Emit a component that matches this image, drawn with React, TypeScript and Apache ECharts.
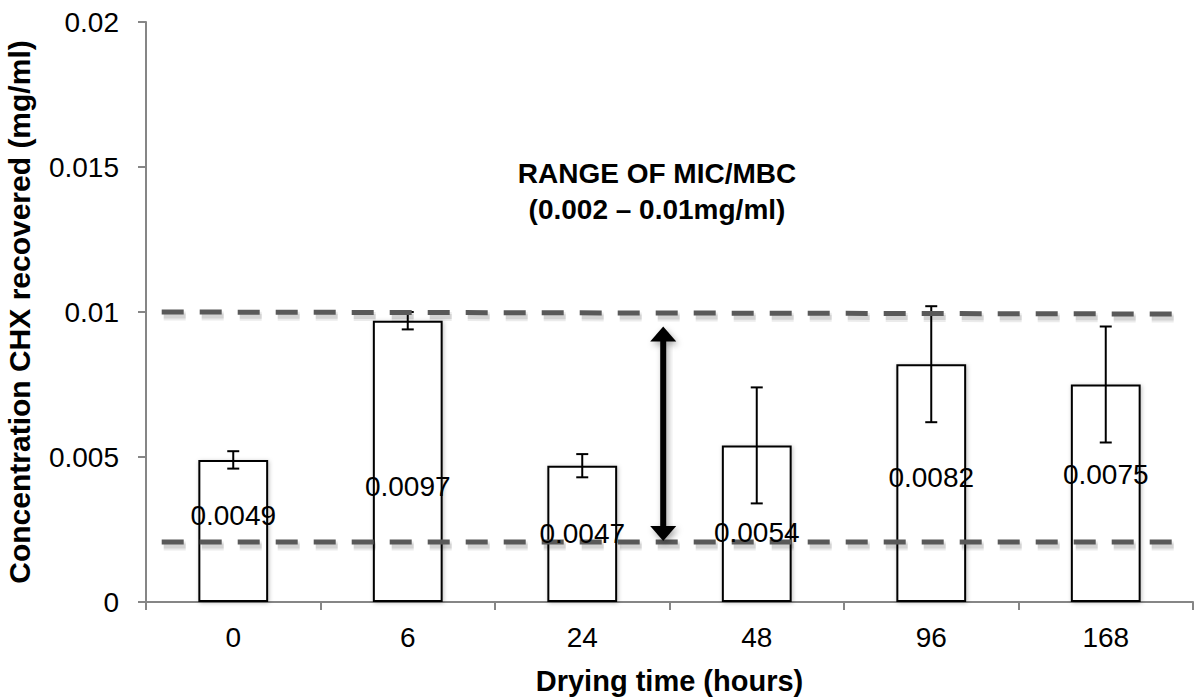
import React, { useEffect, useRef } from "react";
import * as echarts from "echarts";

const categories = ["0", "6", "24", "48", "96", "168"];
const concentration = [0.0049, 0.0097, 0.0047, 0.0054, 0.0082, 0.0075];
const errorMargins = [0.0003, 0.0003, 0.0004, 0.002, 0.002, 0.002];
const labelAnchors = [0.003, 0.004, 0.00235, 0.0024, 0.0043, 0.0044];
const upperLimitLine = [
  [0.015, 0.01],
  [0.985, 0.00993],
];
const lowerLimitLine = [
  [0.015, 0.00207],
  [0.985, 0.00207],
];
const arrowSpan = [[0.494, 0.0095, 0.0021]];
const yMin = 0;
const yMax = 0.02;
const yInterval = 0.005;

const FONT = "'Liberation Sans', Arial, sans-serif";

function dashedLineSeries(points: number[][]) {
  return {
    type: "custom",
    xAxisIndex: 1,
    data: [points.flat()],
    z: 4,
    silent: true,
    renderItem: (params: any, api: any) => {
      const a = api.coord([api.value(0), api.value(1)]);
      const b = api.coord([api.value(2), api.value(3)]);
      const dash = [22, 16];
      return {
        type: "group",
        children: [
          {
            type: "line",
            shape: { x1: a[0] + 2, y1: a[1] + 4, x2: b[0] + 2, y2: b[1] + 4 },
            style: { stroke: "rgba(0,0,0,0.08)", lineWidth: 9, lineDash: dash },
          },
          {
            type: "line",
            shape: { x1: a[0] + 2, y1: a[1] + 4, x2: b[0] + 2, y2: b[1] + 4 },
            style: { stroke: "rgba(0,0,0,0.10)", lineWidth: 5, lineDash: dash },
          },
          {
            type: "line",
            shape: { x1: a[0], y1: a[1], x2: b[0], y2: b[1] },
            style: { stroke: "#595959", lineWidth: 5, lineDash: dash },
          },
        ],
      };
    },
  };
}

export default function App() {
  const ref = useRef<HTMLDivElement>(null);

  useEffect(() => {
    document.body.style.margin = "0";
    if (!ref.current) return;
    const chart = echarts.init(ref.current, null, { renderer: "svg" });

    const errorData = concentration.map((v, i) => [i, v - errorMargins[i], v + errorMargins[i]]);
    const labelData = labelAnchors.map((v, i) => [i, v]);

    chart.setOption({
      animation: false,
      backgroundColor: "#ffffff",
      textStyle: { fontFamily: FONT },
      grid: {
        left: 146,
        right: 3,
        top: 22,
        bottom: 95,
        containLabel: false,
        outerBoundsMode: "none",
      },
      xAxis: [
        {
          type: "category",
          data: categories,
          name: "Drying time (hours)",
          nameLocation: "middle",
          nameGap: 64,
          nameTextStyle: {
            fontSize: 29,
            lineHeight: 29,
            fontWeight: "bold",
            color: "#000",
            fontFamily: FONT,
          },
          axisLine: { lineStyle: { color: "#868686", width: 2 } },
          axisTick: { show: true, length: 8, lineStyle: { color: "#868686", width: 2 } },
          axisLabel: { fontSize: 28, color: "#000", margin: 21, fontFamily: FONT },
          splitLine: { show: false },
        },
        {
          type: "value",
          min: 0,
          max: 1,
          show: false,
        },
      ],
      yAxis: {
        type: "value",
        min: yMin,
        max: yMax,
        interval: yInterval,
        name: "Concentration CHX recovered (mg/ml)",
        nameLocation: "middle",
        nameGap: 112,
        nameTextStyle: { fontSize: 30, fontWeight: "bold", color: "#000", fontFamily: FONT },
        axisLine: { show: true, lineStyle: { color: "#868686", width: 2 } },
        axisTick: { show: true, length: 8, lineStyle: { color: "#868686", width: 2 } },
        axisLabel: { fontSize: 28, color: "#000", margin: 27, fontFamily: FONT },
        splitLine: { show: false },
      },
      series: [
        {
          type: "bar",
          data: concentration,
          barWidth: "40%",
          itemStyle: {
            color: "#ffffff",
            borderColor: "#000000",
            borderWidth: 2,
            shadowColor: "rgba(0,0,0,0.25)",
            shadowBlur: 4,
            shadowOffsetX: 1,
            shadowOffsetY: 1,
          },
          z: 2,
        },
        {
          type: "custom",
          data: errorData,
          z: 3,
          renderItem: (params: any, api: any) => {
            const x = api.value(0);
            const lo = api.coord([x, api.value(1)]);
            const hi = api.coord([x, api.value(2)]);
            const hw = 6;
            const style = { stroke: "#000", lineWidth: 2 };
            return {
              type: "group",
              children: [
                { type: "line", shape: { x1: lo[0], y1: lo[1], x2: hi[0], y2: hi[1] }, style },
                { type: "line", shape: { x1: hi[0] - hw, y1: hi[1], x2: hi[0] + hw, y2: hi[1] }, style },
                { type: "line", shape: { x1: lo[0] - hw, y1: lo[1], x2: lo[0] + hw, y2: lo[1] }, style },
              ],
            };
          },
        },
        dashedLineSeries(upperLimitLine),
        dashedLineSeries(lowerLimitLine),
        {
          type: "custom",
          xAxisIndex: 1,
          data: arrowSpan,
          z: 5,
          silent: true,
          renderItem: (params: any, api: any) => {
            const x = api.value(0);
            const top = api.coord([x, api.value(1)]);
            const bot = api.coord([x, api.value(2)]);
            const hl = 15;
            const hw = 13;
            const shadow = {
              shadowColor: "rgba(0,0,0,0.35)",
              shadowBlur: 6,
              shadowOffsetX: 2,
              shadowOffsetY: 3,
            };
            return {
              type: "group",
              children: [
                {
                  type: "rect",
                  shape: { x: top[0] - 3, y: top[1] + hl - 1, width: 6, height: bot[1] - top[1] - 2 * hl + 2 },
                  style: { fill: "#000", ...shadow },
                },
                {
                  type: "polygon",
                  shape: {
                    points: [
                      [top[0], top[1]],
                      [top[0] - hw, top[1] + hl],
                      [top[0] + hw, top[1] + hl],
                    ],
                  },
                  style: { fill: "#000", ...shadow },
                },
                {
                  type: "polygon",
                  shape: {
                    points: [
                      [bot[0], bot[1]],
                      [bot[0] - hw, bot[1] - hl],
                      [bot[0] + hw, bot[1] - hl],
                    ],
                  },
                  style: { fill: "#000", ...shadow },
                },
              ],
            };
          },
        },
        {
          type: "scatter",
          data: labelData,
          symbolSize: 0,
          z: 6,
          silent: true,
          itemStyle: { opacity: 1, color: "#000" },
          label: {
            show: true,
            position: "inside",
            fontSize: 28,
            color: "#000000",
            opacity: 1,
            textBorderWidth: 0,
            textBorderColor: "transparent",
            fontFamily: FONT,
            formatter: (p: any) => String(concentration[p.dataIndex]),
          },
        },
      ],
      graphic: [
        {
          type: "text",
          x: 657,
          y: 191,
          style: {
            text: "RANGE OF MIC/MBC\n(0.002 – 0.01mg/ml)",
            fontSize: 28,
            fontWeight: "bold",
            fontFamily: FONT,
            fill: "#000",
            align: "center",
            verticalAlign: "middle",
            lineHeight: 36,
          },
          z: 10,
        },
      ],
    });

    return () => chart.dispose();
  }, []);

  return <div ref={ref} style={{ width: 1196, height: 697 }} />;
}
